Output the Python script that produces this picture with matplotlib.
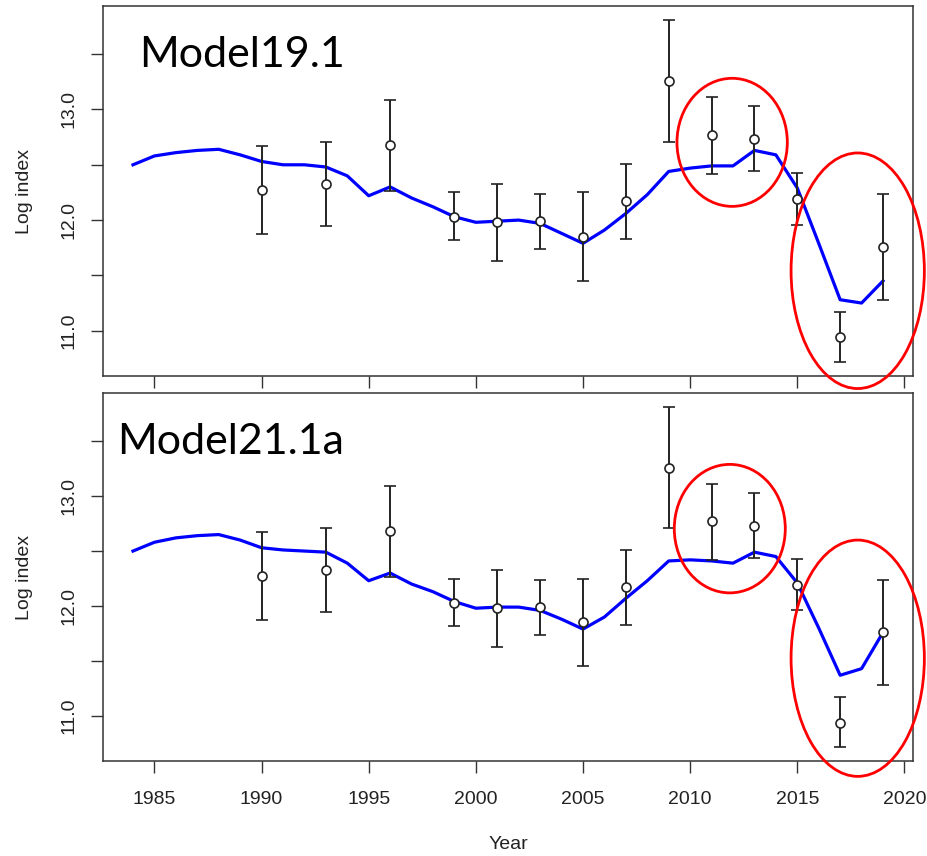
import matplotlib.pyplot as plt
from matplotlib.patches import Ellipse
import numpy as np

plt.rcParams["font.family"] = ["Liberation Sans", "DejaVu Sans"]

fit_years = list(range(1984, 2020))
fit_19 = [12.50, 12.58, 12.61, 12.63, 12.64, 12.59, 12.53, 12.50, 12.50, 12.48,
          12.40, 12.22, 12.30, 12.20, 12.12, 12.03, 11.98, 11.99, 12.00, 11.97,
          11.88, 11.79, 11.91, 12.06, 12.23, 12.44, 12.47, 12.49, 12.49, 12.63,
          12.59, 12.29, 11.79, 11.28, 11.25, 11.45]
fit_21 = [12.50, 12.58, 12.62, 12.64, 12.65, 12.60, 12.53, 12.51, 12.50, 12.49,
          12.39, 12.23, 12.30, 12.20, 12.13, 12.04, 11.98, 11.99, 11.99, 11.96,
          11.88, 11.79, 11.90, 12.07, 12.23, 12.41, 12.42, 12.41, 12.39, 12.49,
          12.45, 12.21, 11.80, 11.37, 11.43, 11.76]

obs_years = [1990, 1993, 1996, 1999, 2001, 2003, 2005, 2007, 2009, 2011, 2013, 2015, 2017, 2019]
obs = [12.27, 12.33, 12.68, 12.03, 11.98, 11.99, 11.85, 12.17, 13.26, 12.77, 12.73, 12.19, 10.94, 11.76]
obs_hi = [12.67, 12.71, 13.09, 12.25, 12.33, 12.24, 12.25, 12.51, 13.81, 13.11, 13.03, 12.43, 11.17, 12.24]
obs_lo = [11.87, 11.95, 12.26, 11.82, 11.63, 11.74, 11.45, 11.83, 12.71, 12.42, 12.44, 11.96, 10.72, 11.28]

panels = [("Model19.1", fit_19, 0.045, 0.868), ("Model21.1a", fit_21, 0.018, 0.868)]

fig = plt.figure(figsize=(9.27, 8.56), dpi=100)
ax_top = fig.add_axes([0.1111, 0.5607, 0.8738, 0.4322])
ax_bot = fig.add_axes([0.1111, 0.111, 0.8738, 0.4295])

obs = np.array(obs)
err = [obs - np.array(obs_lo), np.array(obs_hi) - obs]

for ax, (name, fit, tx, ty) in zip([ax_top, ax_bot], panels):
    ax.plot(fit_years, fit, color="#0000ff", lw=2.3, zorder=2)
    ax.errorbar(obs_years, obs, yerr=err, fmt="o", color="#222222", ecolor="#222222",
                elinewidth=1.4, capsize=4, capthick=1.4, markersize=6.5,
                markerfacecolor="white", markeredgecolor="#222222", markeredgewidth=1.2, zorder=3)
    ax.set_xlim(1982.6, 2020.4)
    ax.set_ylim(10.59, 13.935)
    ax.set_yticks([11.0, 11.5, 12.0, 12.5, 13.0, 13.5])
    ax.set_yticklabels(["11.0", "", "12.0", "", "13.0", ""], rotation=90, va="center")
    ax.set_xticks(range(1985, 2021, 5))
    ax.tick_params(length=8.5, width=1.0, color="#333333", labelsize=14, labelcolor="#222222")
    ax.tick_params(axis="y", pad=10)
    ax.tick_params(axis="x", pad=13)
    for s in ax.spines.values():
        s.set_color("#333333")
        s.set_linewidth(1.1)
    ax.set_ylabel("Log index", fontsize=14, color="#222222", labelpad=20)
    ax.text(tx, ty, name, transform=ax.transAxes,
            fontsize=31, family=["Lato", "DejaVu Sans"], va="center", ha="left", color="black")

ax_top.set_xticklabels([])
ax_bot.set_xlabel("Year", fontsize=14, color="#222222", labelpad=20)

# red highlight circles
ax_top.add_patch(Ellipse((2011.96, 12.703), 5.15, 1.158, fill=False, edgecolor="red",
                         lw=2.0, clip_on=False, zorder=5))
ax_top.add_patch(Ellipse((2017.82, 11.542), 6.22, 2.13, fill=False, edgecolor="red",
                         lw=2.0, clip_on=False, zorder=5))
ax_bot.add_patch(Ellipse((2011.85, 12.704), 5.18, 1.169, fill=False, edgecolor="red",
                         lw=2.0, clip_on=False, zorder=5))
ax_bot.add_patch(Ellipse((2017.82, 11.525), 6.22, 2.15, fill=False, edgecolor="red",
                         lw=2.0, clip_on=False, zorder=5))

plt.savefig("out.png", dpi=100)
